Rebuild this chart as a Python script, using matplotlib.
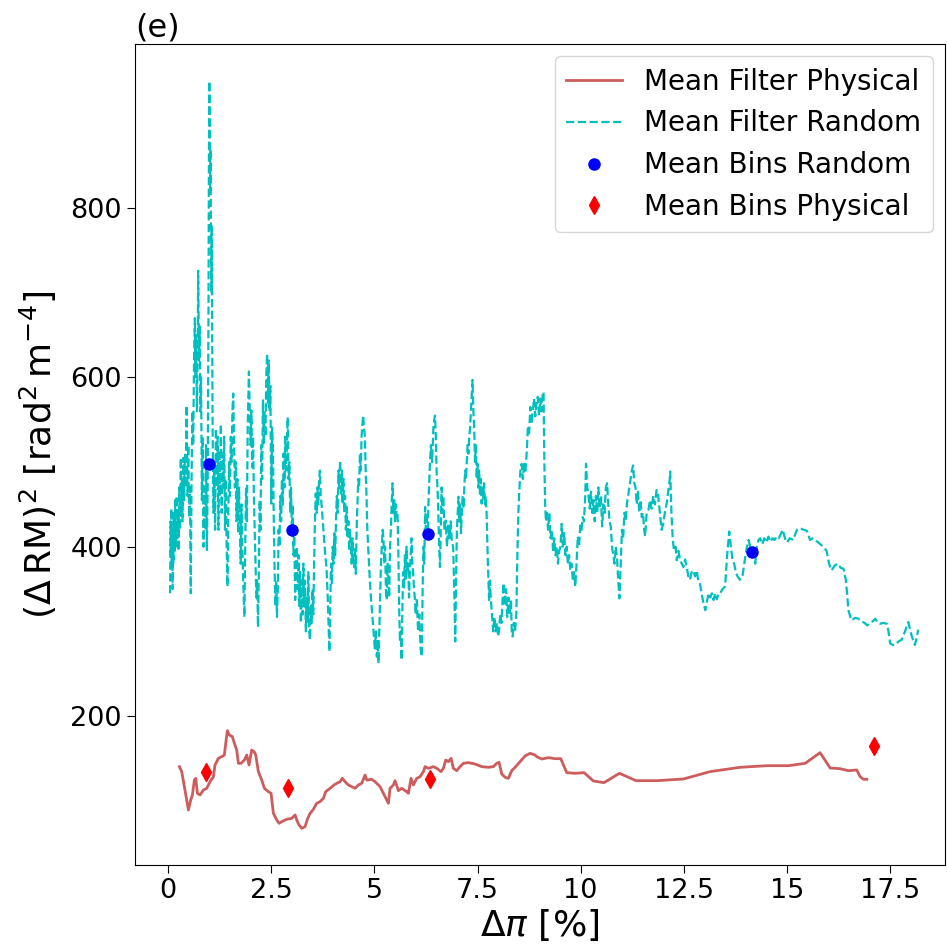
import matplotlib
matplotlib.use("Agg")
import matplotlib.pyplot as plt
from matplotlib.ticker import FuncFormatter

# mean filter, physical pairs
phys_x = [0.275, 0.331, 0.396, 0.452, 0.493, 0.549, 0.590, 0.638, 0.671, 0.711, 0.776, 0.856,
          0.937, 1.018, 1.099, 1.139, 1.220, 1.301, 1.365, 1.398, 1.438, 1.486, 1.559, 1.608,
          1.664, 1.705, 1.769, 1.850, 1.907, 1.963, 2.028, 2.084, 2.125, 2.189, 2.270, 2.335,
          2.432, 2.496, 2.553, 2.634, 2.690, 2.755, 2.876, 2.997, 3.078, 3.135, 3.175, 3.240,
          3.320, 3.385, 3.442, 3.522, 3.603, 3.684, 3.765, 3.821, 3.926, 4.023, 4.088, 4.169,
          4.225, 4.290, 4.371, 4.451, 4.532, 4.613, 4.694, 4.775, 4.815, 4.936, 5.017, 5.138,
          5.219, 5.300, 5.340, 5.380, 5.461, 5.502, 5.582, 5.663, 5.784, 5.825, 5.889, 5.946,
          6.027, 6.108, 6.188, 6.229, 6.310, 6.431, 6.512, 6.616, 6.673, 6.730, 6.794, 6.859,
          6.915, 6.996, 7.077, 7.158, 7.279, 7.441, 7.602, 7.764, 7.885, 7.966, 8.022, 8.087,
          8.168, 8.249, 8.329, 8.426, 8.531, 8.652, 8.773, 8.895, 8.935, 9.057, 9.218, 9.380,
          9.517, 9.663, 9.864, 10.083, 10.309, 10.567, 10.939, 11.343, 11.844, 12.490, 13.137,
          13.864, 14.510, 15.036, 15.440, 15.803, 16.046, 16.288, 16.490, 16.692, 16.773,
          16.854, 16.935]
phys_y = [140.2, 134.3, 116.5, 100.8, 89.0, 100.8, 106.7, 124.4, 126.4, 108.7, 106.7, 112.6,
          114.6, 122.4, 128.3, 142.1, 150.0, 152.0, 153.9, 167.7, 182.7, 177.6, 175.6, 167.7,
          159.8, 144.1, 144.1, 148.0, 153.9, 142.1, 159.8, 157.9, 153.9, 134.3, 124.4, 114.6,
          110.6, 108.7, 85.0, 77.2, 73.2, 75.2, 78.0, 79.1, 83.1, 75.2, 71.3, 67.3,
          69.3, 79.1, 85.0, 89.8, 96.9, 98.8, 102.8, 110.6, 114.6, 118.5, 120.5, 122.4,
          126.4, 122.4, 118.5, 116.5, 114.6, 118.5, 120.5, 130.3, 124.4, 125.2, 122.4, 116.5,
          108.7, 100.8, 96.9, 114.6, 118.5, 123.6, 111.8, 114.6, 110.6, 108.7, 126.4, 118.5,
          126.4, 128.3, 134.3, 140.2, 138.2, 140.2, 138.2, 134.3, 138.2, 148.0, 146.1, 150.0,
          138.2, 135.4, 140.2, 144.1, 144.9, 143.3, 140.2, 139.4, 140.2, 144.1, 145.3, 131.5,
          127.6, 126.4, 135.4, 140.2, 146.1, 152.8, 155.9, 153.9, 152.0, 149.2, 150.8, 149.6,
          149.6, 133.1, 132.3, 133.1, 123.2, 121.3, 132.3, 123.6, 123.6, 125.6, 134.3,
          139.4, 141.3, 141.3, 144.1, 156.7, 138.6, 137.8, 135.4, 136.2, 128.3,
          125.2, 125.2]

# mean filter, random pairs
rand_x = [0.05, 0.06, 0.07, 0.08, 0.09, 0.10, 0.11, 0.12, 0.13, 0.14, 0.16, 0.17, 0.19, 0.21,
          0.22, 0.24, 0.25, 0.27, 0.29, 0.31, 0.32, 0.34, 0.35, 0.37, 0.39, 0.41, 0.43, 0.45,
          0.47, 0.49, 0.51, 0.53, 0.55, 0.57, 0.59, 0.61, 0.63, 0.65, 0.66, 0.68, 0.70, 0.72,
          0.73, 0.75, 0.77, 0.78, 0.80, 0.82, 0.84, 0.86, 0.88, 0.90, 0.92, 0.94, 0.96, 0.98,
          0.99, 1.00, 1.01, 1.02, 1.03, 1.04, 1.05, 1.06, 1.07, 1.08, 1.10, 1.12, 1.14, 1.16,
          1.18, 1.20, 1.22, 1.24, 1.26, 1.28, 1.30, 1.32, 1.34, 1.36, 1.38, 1.40, 1.42, 1.44,
          1.46, 1.48, 1.50, 1.52, 1.54, 1.56, 1.58, 1.60, 1.62, 1.64, 1.66, 1.68, 1.70, 1.72,
          1.74, 1.76, 1.78, 1.80, 1.82, 1.85, 1.87, 1.89, 1.91, 1.93, 1.96, 1.98, 2.00, 2.02,
          2.04, 2.06, 2.08, 2.10, 2.12, 2.14, 2.16, 2.18, 2.20, 2.22, 2.24, 2.26, 2.28, 2.30,
          2.32, 2.34, 2.36, 2.38, 2.40, 2.42, 2.44, 2.46, 2.48, 2.50, 2.52, 2.54, 2.56, 2.58,
          2.60, 2.62, 2.64, 2.66, 2.68, 2.70, 2.72, 2.74, 2.76, 2.78, 2.80, 2.82, 2.84, 2.86,
          2.88, 2.90, 2.92, 2.94, 2.96, 2.98, 3.00, 3.02, 3.04, 3.06, 3.08, 3.10, 3.12, 3.14,
          3.16, 3.18, 3.20, 3.22, 3.24, 3.26, 3.28, 3.30, 3.32, 3.34, 3.36, 3.38, 3.40, 3.42,
          3.44, 3.46, 3.48, 3.50, 3.52, 3.54, 3.56, 3.58, 3.60, 3.62, 3.64, 3.66, 3.68, 3.70,
          3.72, 3.75, 3.78, 3.81, 3.84, 3.87, 3.91, 3.93, 3.95, 3.97, 3.99, 4.01, 4.03, 4.05,
          4.07, 4.09, 4.11, 4.13, 4.15, 4.17, 4.19, 4.21, 4.23, 4.25, 4.27, 4.29, 4.31, 4.33,
          4.35, 4.37, 4.39, 4.41, 4.43, 4.45, 4.47, 4.49, 4.51, 4.53, 4.55, 4.57, 4.59, 4.61,
          4.63, 4.65, 4.67, 4.69, 4.71, 4.73, 4.75, 4.77, 4.79, 4.81, 4.83, 4.86, 4.89, 4.92,
          4.95, 4.98, 5.01, 5.04, 5.06, 5.08, 5.10, 5.12, 5.14, 5.16, 5.18, 5.20, 5.22, 5.24,
          5.26, 5.28, 5.30, 5.32, 5.34, 5.36, 5.38, 5.40, 5.42, 5.44, 5.46, 5.48, 5.50, 5.52,
          5.54, 5.56, 5.58, 5.60, 5.62, 5.64, 5.66, 5.68, 5.70, 5.72, 5.74, 5.76, 5.78, 5.80,
          5.82, 5.84, 5.86, 5.88, 5.90, 5.92, 5.94, 5.96, 5.98, 6.00, 6.03, 6.06, 6.09, 6.12,
          6.15, 6.17, 6.19, 6.21, 6.23, 6.25, 6.27, 6.29, 6.31, 6.34, 6.37, 6.40, 6.43, 6.45,
          6.47, 6.49, 6.51, 6.53, 6.55, 6.57, 6.59, 6.61, 6.63, 6.65, 6.67, 6.70, 6.73, 6.76,
          6.79, 6.82, 6.85, 6.88, 6.91, 6.94, 6.96, 6.98, 7.00, 7.02, 7.04, 7.06, 7.08, 7.10,
          7.12, 7.14, 7.16, 7.18, 7.20, 7.22, 7.24, 7.26, 7.28, 7.30, 7.32, 7.34, 7.36, 7.38,
          7.40, 7.42, 7.44, 7.46, 7.48, 7.50, 7.52, 7.54, 7.56, 7.58, 7.60, 7.62, 7.64, 7.66,
          7.68, 7.70, 7.72, 7.74, 7.76, 7.78, 7.80, 7.82, 7.85, 7.88, 7.91, 7.94, 7.97, 8.00,
          8.02, 8.05, 8.08, 8.11, 8.13, 8.16, 8.19, 8.22, 8.25, 8.28, 8.31, 8.33, 8.35, 8.38,
          8.41, 8.44, 8.47, 8.49, 8.51, 8.54, 8.57, 8.60, 8.63, 8.66, 8.69, 8.72, 8.75, 8.78,
          8.81, 8.84, 8.87, 8.90, 8.93, 8.96, 8.99, 9.02, 9.05, 9.08, 9.10, 9.12, 9.14, 9.16,
          9.18, 9.21, 9.24, 9.27, 9.30, 9.33, 9.36, 9.39, 9.42, 9.45, 9.48, 9.51, 9.54, 9.57,
          9.60, 9.63, 9.66, 9.69, 9.72, 9.75, 9.78, 9.81, 9.84, 9.87, 9.90, 9.93, 9.96, 9.99,
          10.02, 10.05, 10.08, 10.11, 10.13, 10.16, 10.19, 10.22, 10.25, 10.28, 10.31, 10.34,
          10.37, 10.40, 10.43, 10.46, 10.49, 10.52, 10.55, 10.58, 10.61, 10.64, 10.67, 10.70,
          10.73, 10.76, 10.79, 10.82, 10.85, 10.88, 10.91, 10.94, 10.97, 11.00, 11.03, 11.06,
          11.09, 11.12, 11.15, 11.18, 11.21, 11.24, 11.27, 11.30, 11.33, 11.36, 11.39, 11.42,
          11.45, 11.48, 11.51, 11.54, 11.56, 11.60, 11.64, 11.68, 11.72, 11.76, 11.80, 11.84,
          11.88, 11.92, 11.96, 12.00, 12.04, 12.08, 12.12, 12.15, 12.17, 12.20, 12.23, 12.26,
          12.30, 12.33, 12.37, 12.41, 12.45, 12.49, 12.53, 12.57, 12.61, 12.65, 12.69, 12.73,
          12.77, 12.81, 12.85, 12.89, 12.93, 12.97, 13.02, 13.06, 13.10, 13.14, 13.18, 13.22,
          13.26, 13.30, 13.34, 13.38, 13.44, 13.50, 13.55, 13.60, 13.64, 13.68, 13.72, 13.76,
          13.80, 13.86, 13.92, 13.98, 14.03, 14.07, 14.11, 14.15, 14.19, 14.23, 14.27, 14.31,
          14.35, 14.40, 14.45, 14.50, 14.55, 14.60, 14.65, 14.70, 14.75, 14.80, 14.85, 14.90,
          14.95, 15.00, 15.07, 15.15, 15.24, 15.32, 15.40, 15.48, 15.56, 15.62, 15.68, 15.76,
          15.88, 15.96, 16.02, 16.08, 16.16, 16.24, 16.30, 16.37, 16.43, 16.49, 16.53, 16.57,
          16.65, 16.73, 16.80, 16.88, 16.95, 17.01, 17.08, 17.14, 17.20, 17.26, 17.34, 17.42,
          17.46, 17.50, 17.56, 17.62, 17.70, 17.78, 17.86, 17.94, 18.02, 18.10, 18.14, 18.18]
rand_y = [345, 430, 390, 445, 375, 420, 350, 410, 380, 440, 395, 455, 400, 460,
          410, 440, 395, 470, 420, 505, 440, 480, 430, 505, 455, 510, 470, 567,
          460, 520, 435, 470, 345, 480, 560, 520, 620, 670, 600, 650, 560, 640,
          726, 620, 660, 560, 600, 455, 530, 400, 470, 420, 520, 396, 470, 680,
          850, 950, 900, 820, 870, 760, 700, 780, 640, 541, 440, 500, 420, 540,
          470, 530, 420, 514, 460, 545, 440, 510, 470, 530, 420, 480, 400, 353,
          440, 500, 460, 530, 500, 560, 581, 520, 470, 500, 430, 480, 416, 470,
          420, 380, 450, 400, 360, 317, 400, 470, 430, 540, 607, 560, 520, 561,
          494, 530, 460, 420, 380, 340, 360, 305, 370, 455, 420, 520, 480, 573,
          520, 560, 530, 600, 628, 570, 620, 560, 590, 451, 541, 520, 440, 380,
          330, 360, 317, 350, 420, 400, 460, 430, 480, 450, 510, 470, 530, 490,
          520, 553, 480, 500, 440, 470, 420, 450, 390, 420, 337, 380, 400, 350,
          390, 330, 370, 310, 360, 320, 380, 330, 360, 300, 340, 310, 370, 300,
          290, 330, 310, 350, 320, 380, 430, 463, 440, 470, 450, 480, 490, 460,
          450, 430, 410, 390, 376, 340, 276, 330, 380, 357, 400, 380, 416, 390,
          430, 460, 440, 490, 470, 502, 460, 490, 450, 480, 440, 460, 420, 447,
          410, 430, 395, 420, 400, 380, 410, 390, 376, 400, 368, 420, 450, 480,
          470, 510, 490, 530, 545, 555, 540, 530, 490, 460, 420, 390, 360, 337,
          320, 300, 280, 300, 270, 290, 262, 300, 340, 380, 400, 420, 410, 380,
          400, 350, 337, 380, 360, 340, 400, 420, 450, 475, 440, 455, 430, 450,
          435, 440, 400, 330, 290, 300, 266, 330, 370, 350, 390, 360, 400, 370,
          380, 340, 370, 390, 410, 380, 370, 350, 340, 320, 337, 300, 320, 280,
          270, 350, 400, 380, 447, 420, 440, 415, 450, 490, 520, 500, 540, 550,
          555, 530, 487, 470, 440, 400, 376, 420, 470, 440, 460, 420, 431, 400,
          425, 410, 430, 405, 400, 340, 288, 360, 420, 440, 459, 430, 450, 416,
          440, 460, 445, 470, 490, 480, 500, 520, 510, 530, 540, 560, 580, 597,
          560, 540, 500, 520, 480, 498, 470, 490, 460, 480, 451, 470, 455, 475,
          450, 460, 440, 400, 370, 337, 360, 340, 320, 300, 317, 300, 310, 294,
          300, 320, 310, 340, 357, 330, 350, 317, 340, 320, 337, 300, 294, 310,
          300, 320, 400, 440, 463, 490, 498, 480, 500, 487, 510, 540, 534, 565,
          545, 560, 575, 554, 570, 577, 555, 575, 560, 581, 583, 500, 447, 430,
          443, 420, 440, 410, 420, 396, 410, 390, 400, 380, 395, 400, 427, 400,
          416, 390, 400, 380, 390, 372, 380, 360, 370, 353, 380, 412, 400, 425,
          420, 435, 430, 460, 498, 470, 460, 445, 465, 440, 455, 430,
          460, 440, 470, 445, 460, 424, 450, 440, 470, 475, 450, 430,
          424, 400, 390, 380, 400, 388, 360, 339, 380, 420, 410, 440,
          430, 451, 460, 470, 480, 490, 496, 475, 470, 450, 465, 440,
          455, 435, 440, 420, 412, 440, 443, 455, 445, 460, 450, 467,
          460, 440, 420, 427, 440, 450, 465, 475, 489, 440, 410, 396,
          400, 384, 395, 384, 380, 376, 385, 376, 365, 361, 370, 372,
          365, 372, 360, 357, 345, 335, 325, 335, 345, 340, 345, 337,
          345, 338, 345, 345, 350, 353, 390, 418, 400, 385, 380, 370,
          365, 361, 365, 385, 400, 408, 400, 395, 390, 380, 400, 408,
          410, 403, 410, 405, 412, 406, 410, 408, 412, 410, 415, 420,
          410, 405, 410, 408, 420, 422, 420, 419, 408, 410, 408, 405,
          400, 395, 380, 372, 378, 380, 375, 374, 360, 325, 318, 313,
          316, 315, 312, 310, 307, 310, 312, 315, 310, 309, 310, 309,
          300, 286, 284, 284, 288, 290, 300, 311, 295, 284, 292, 302]

# binned means
bins_rand_x = [1.00, 3.01, 6.30, 14.15]
bins_rand_y = [498, 420, 415, 394]
bins_phys_x = [0.92, 2.90, 6.36, 17.12]
bins_phys_y = [134, 114.5, 125, 164]

fig = plt.figure(figsize=(9.47, 9.47), dpi=100)
ax = fig.add_axes([0.1426, 0.0866, 0.8553, 0.8670])

ax.plot(phys_x, phys_y, color='indianred', lw=2, label='Mean Filter Physical')
ax.plot(rand_x, rand_y, 'c--', lw=1.6, label='Mean Filter Random')
ax.plot(bins_rand_x, bins_rand_y, 'bo', ms=8, label='Mean Bins Random')
ax.plot(bins_phys_x, bins_phys_y, 'rd', ms=9, label='Mean Bins Physical')

ax.set_xlim(-0.8, 18.83)
ax.set_ylim(24, 994)
ax.set_xticks([0, 2.5, 5, 7.5, 10, 12.5, 15, 17.5])
ax.set_yticks([200, 400, 600, 800])
ax.xaxis.set_major_formatter(FuncFormatter(lambda v, p: '%g' % v))
ax.tick_params(labelsize=19.5, length=6)

ax.set_xlabel(r'$\Delta\pi$ [%]', fontsize=26, labelpad=2)
ax.set_ylabel(r'$(\Delta\,\mathrm{RM})^2$ [rad$^2\,$m$^{-4}$]', fontsize=26, labelpad=8)
ax.set_title('(e)', loc='left', fontsize=23, pad=3)

ax.legend(loc='upper right', fontsize=20, borderaxespad=0.45, labelspacing=0.5)

fig.savefig('out.png', dpi=100)
